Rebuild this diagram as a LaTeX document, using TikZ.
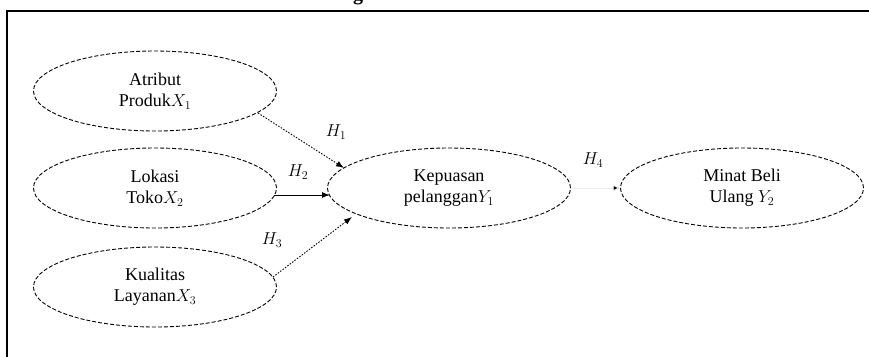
\documentclass[tikz,border=0pt]{standalone}
\usepackage{fontspec}
\setmainfont{Liberation Serif}
\usetikzlibrary{shapes.geometric,arrows.meta}
\tikzset{
  var/.style={ellipse, draw, line width=0.9pt, dash pattern=on 4pt off 2pt,
    minimum width=243pt, minimum height=80pt, inner sep=0pt, align=center,
    font=\fontsize{18}{21}\selectfont},
  hyp/.style={font=\fontsize{18}{18}\selectfont},
  dotarrow/.style={line width=0.9pt, dash pattern=on 1.5pt off 1.5pt, -{Latex[length=8pt,width=6pt]}},
  solarrow/.style={line width=1pt, -{Latex[length=8pt,width=6pt]}}
}
\begin{document}
\begin{tikzpicture}[x=1pt,y=-1pt]
\useasboundingbox (0,0) rectangle (869,356);
\clip (0,0) rectangle (869,356);
\fill[white] (0,0) rectangle (869,356);
\draw[line width=2pt] (7,11) rectangle (890,400);
\node[anchor=base, font=\bfseries\fontsize{20}{20}\selectfont] (ttl) at (358,0.5) {g};
\node[var] (x1) at (155,91) {Atribut\\Produk$X_1$};
\node[var] (x2) at (155,188) {Lokasi\\Toko$X_2$};
\node[var] (x3) at (155,287) {Kualitas\\Layanan$X_3$};
\node[var] (y1) at (449,188) {Kepuasan\\pelanggan$Y_1$};
\node[var] (y2) at (742,188) {Minat Beli\\Ulang $Y_2$};
\coordinate (a1) at (258,113);
\coordinate (b1) at (344,168);
\coordinate (a2) at (274,195);
\coordinate (b2) at (330,195);
\coordinate (a3) at (273,277);
\coordinate (b3) at (352,217);
\draw[dotarrow] (a1) -- (b1);
\draw[solarrow] (a2) -- (b2);
\draw[dotarrow] (a3) -- (b3);
\draw[line width=0.6pt, black!8, -{Latex[length=7pt,width=6pt,fill=black]}] (y1.east) -- (y2.west);
\node[hyp] (h1) at (336,132) {$H_1$};
\node[hyp] (h2) at (298,172) {$H_2$};
\node[hyp] (h3) at (272,240) {$H_3$};
\node[hyp] (h4) at (593,160) {$H_4$};
\end{tikzpicture}
\end{document}
